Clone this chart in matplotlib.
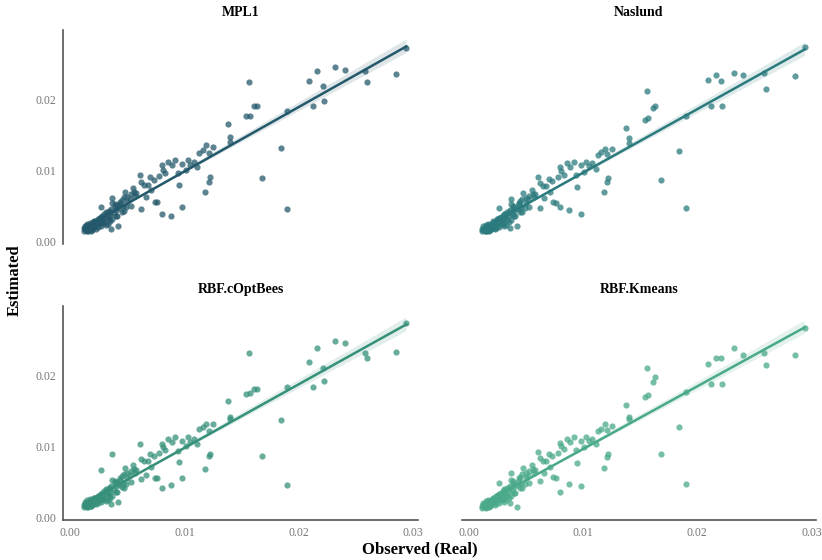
import matplotlib
matplotlib.use("Agg")
import matplotlib.pyplot as plt
import seaborn as sns
import numpy as np

plt.rcParams["font.family"] = ["Liberation Serif", "DejaVu Serif"]

observed = [
    0.0294, 0.0285, 0.0260, 0.0258, 0.0232, 0.0240, 0.0216, 0.0209, 0.0221, 0.0212,
    0.0222, 0.0190, 0.0184, 0.0168, 0.0190, 0.0156, 0.0163, 0.0161, 0.0154, 0.0157,
    0.0138, 0.0140, 0.0140, 0.0119, 0.0116, 0.0113, 0.0121, 0.0122, 0.0121, 0.0118,
    0.0098, 0.0095, 0.0088, 0.0080, 0.0103, 0.0105, 0.0092, 0.0089, 0.0080, 0.0081,
    0.0083, 0.0094, 0.0101, 0.0108, 0.0086, 0.0111, 0.0098, 0.0125, 0.0061, 0.0062,
    0.0073, 0.0068, 0.0048, 0.0062, 0.0074, 0.0076, 0.0037, 0.0040, 0.0027, 0.0037,
    0.0042, 0.0036, 0.0055, 0.0058, 0.0065, 0.0070, 0.0052, 0.0050, 0.0045, 0.0066,
    0.0078, 0.0071, 0.0012, 0.0013, 0.0014, 0.0015, 0.0016, 0.0017, 0.0018, 0.0019,
    0.0020, 0.0021, 0.0022, 0.0023, 0.0024, 0.0025, 0.0026, 0.0027, 0.0028, 0.0029,
    0.0030, 0.0031, 0.0032, 0.0033, 0.0034, 0.0035, 0.0036, 0.0038, 0.0039, 0.0041,
    0.0043, 0.0044, 0.0046, 0.0047, 0.0049, 0.0014, 0.0016, 0.0018, 0.0020, 0.0022,
    0.0026, 0.0030, 0.0034, 0.0053, 0.0057,
    0.0013, 0.0015, 0.0017, 0.0019, 0.0021, 0.0023, 0.0025, 0.0027, 0.0029, 0.0031,
    0.0033, 0.0035, 0.0037, 0.0039, 0.0041, 0.0044, 0.0047, 0.0050, 0.0053, 0.0056,
    0.0012, 0.0015, 0.0018, 0.0021, 0.0024, 0.0027, 0.0031, 0.0035, 0.0040, 0.0045,
]

mpl1 = [
    0.0272, 0.0236, 0.0224, 0.0239, 0.0245, 0.0241, 0.0239, 0.0226, 0.0218, 0.0191,
    0.0197, 0.0184, 0.0132, 0.0089, 0.0046, 0.0224, 0.0190, 0.0190, 0.0176, 0.0177,
    0.0165, 0.0147, 0.0140, 0.0136, 0.0129, 0.0124, 0.0124, 0.0091, 0.0084, 0.0069,
    0.0049, 0.0079, 0.0035, 0.0039, 0.0115, 0.0107, 0.0115, 0.0107, 0.0107, 0.0100,
    0.0096, 0.0096, 0.0100, 0.0112, 0.0112, 0.0104, 0.0109, 0.0133, 0.0093, 0.0084,
    0.0086, 0.0079, 0.0070, 0.0046, 0.0056, 0.0056, 0.0054, 0.0044, 0.0049, 0.0061,
    0.0021, 0.0018, 0.0075, 0.0068, 0.0080, 0.0090, 0.0060, 0.0055, 0.0058, 0.0063,
    0.0092, 0.0072, 0.0019, 0.0017, 0.0021, 0.0018, 0.0023, 0.0020, 0.0025, 0.0021,
    0.0027, 0.0023, 0.0029, 0.0025, 0.0031, 0.0027, 0.0033, 0.0029, 0.0036, 0.0031,
    0.0038, 0.0033, 0.0040, 0.0035, 0.0043, 0.0037, 0.0046, 0.0040, 0.0048, 0.0051,
    0.0047, 0.0053, 0.0050, 0.0062, 0.0048, 0.0016, 0.0015, 0.0017, 0.0019, 0.0020,
    0.0024, 0.0027, 0.0031, 0.0066, 0.0064,
    0.0022, 0.0014, 0.0026, 0.0016, 0.0029, 0.0018, 0.0032, 0.0021, 0.0026, 0.0041,
    0.0024, 0.0042, 0.0031, 0.0052, 0.0036, 0.0056, 0.0043, 0.0063, 0.0050, 0.0069,
    0.0015, 0.0024, 0.0015, 0.0027, 0.0020, 0.0034, 0.0023, 0.0028, 0.0036, 0.0042,
]

naslund = [
    0.0274, 0.0232, 0.0215, 0.0237, 0.0237, 0.0234, 0.0234, 0.0227, 0.0225, 0.0190,
    0.0190, 0.0177, 0.0127, 0.0087, 0.0047, 0.0212, 0.0191, 0.0188, 0.0171, 0.0173,
    0.0159, 0.0145, 0.0138, 0.0130, 0.0126, 0.0121, 0.0123, 0.0089, 0.0083, 0.0070,
    0.0039, 0.0077, 0.0044, 0.0048, 0.0112, 0.0106, 0.0112, 0.0105, 0.0104, 0.0099,
    0.0094, 0.0093, 0.0098, 0.0110, 0.0110, 0.0102, 0.0107, 0.0130, 0.0090, 0.0082,
    0.0085, 0.0078, 0.0068, 0.0047, 0.0055, 0.0054, 0.0052, 0.0043, 0.0047, 0.0060,
    0.0022, 0.0019, 0.0072, 0.0066, 0.0078, 0.0088, 0.0059, 0.0054, 0.0057, 0.0061,
    0.0090, 0.0070, 0.0017, 0.0016, 0.0019, 0.0018, 0.0021, 0.0019, 0.0023, 0.0020,
    0.0025, 0.0022, 0.0027, 0.0024, 0.0029, 0.0026, 0.0031, 0.0028, 0.0034, 0.0030,
    0.0036, 0.0032, 0.0038, 0.0034, 0.0041, 0.0036, 0.0044, 0.0039, 0.0047, 0.0049,
    0.0046, 0.0052, 0.0049, 0.0060, 0.0047, 0.0015, 0.0015, 0.0016, 0.0018, 0.0019,
    0.0023, 0.0026, 0.0030, 0.0064, 0.0062,
    0.0021, 0.0014, 0.0025, 0.0016, 0.0028, 0.0018, 0.0031, 0.0020, 0.0025, 0.0039,
    0.0023, 0.0041, 0.0030, 0.0050, 0.0035, 0.0054, 0.0042, 0.0061, 0.0049, 0.0067,
    0.0014, 0.0023, 0.0015, 0.0026, 0.0019, 0.0033, 0.0022, 0.0027, 0.0035, 0.0041,
]

rbf_coptbees = [
    0.0274, 0.0233, 0.0225, 0.0232, 0.0249, 0.0246, 0.0239, 0.0219, 0.0210, 0.0184,
    0.0192, 0.0184, 0.0137, 0.0087, 0.0046, 0.0231, 0.0181, 0.0181, 0.0174, 0.0175,
    0.0164, 0.0141, 0.0139, 0.0132, 0.0128, 0.0124, 0.0122, 0.0090, 0.0086, 0.0068,
    0.0056, 0.0078, 0.0046, 0.0041, 0.0113, 0.0106, 0.0114, 0.0106, 0.0104, 0.0099,
    0.0095, 0.0094, 0.0101, 0.0111, 0.0111, 0.0104, 0.0108, 0.0131, 0.0103, 0.0083,
    0.0087, 0.0079, 0.0070, 0.0054, 0.0056, 0.0055, 0.0053, 0.0044, 0.0067, 0.0089,
    0.0022, 0.0019, 0.0074, 0.0067, 0.0080, 0.0090, 0.0060, 0.0055, 0.0058, 0.0060,
    0.0091, 0.0071, 0.0018, 0.0017, 0.0020, 0.0018, 0.0022, 0.0020, 0.0024, 0.0021,
    0.0026, 0.0023, 0.0028, 0.0024, 0.0030, 0.0026, 0.0032, 0.0029, 0.0035, 0.0031,
    0.0037, 0.0033, 0.0039, 0.0034, 0.0042, 0.0036, 0.0045, 0.0039, 0.0048, 0.0050,
    0.0046, 0.0053, 0.0049, 0.0061, 0.0047, 0.0016, 0.0015, 0.0016, 0.0019, 0.0020,
    0.0024, 0.0026, 0.0031, 0.0065, 0.0063,
    0.0022, 0.0015, 0.0026, 0.0017, 0.0028, 0.0019, 0.0031, 0.0022, 0.0026, 0.0040,
    0.0025, 0.0041, 0.0031, 0.0051, 0.0036, 0.0055, 0.0042, 0.0062, 0.0050, 0.0068,
    0.0015, 0.0024, 0.0016, 0.0027, 0.0021, 0.0033, 0.0023, 0.0028, 0.0036, 0.0043,
]

rbf_kmeans = [
    0.0267, 0.0228, 0.0214, 0.0232, 0.0238, 0.0229, 0.0225, 0.0216, 0.0225, 0.0188,
    0.0188, 0.0177, 0.0128, 0.0089, 0.0047, 0.0211, 0.0198, 0.0191, 0.0170, 0.0172,
    0.0158, 0.0142, 0.0139, 0.0131, 0.0125, 0.0122, 0.0123, 0.0089, 0.0085, 0.0069,
    0.0045, 0.0077, 0.0047, 0.0036, 0.0114, 0.0108, 0.0113, 0.0106, 0.0105, 0.0100,
    0.0097, 0.0095, 0.0099, 0.0110, 0.0110, 0.0103, 0.0108, 0.0129, 0.0092, 0.0084,
    0.0086, 0.0079, 0.0069, 0.0052, 0.0057, 0.0055, 0.0053, 0.0043, 0.0048, 0.0062,
    0.0015, 0.0020, 0.0074, 0.0067, 0.0079, 0.0089, 0.0059, 0.0055, 0.0057, 0.0062,
    0.0091, 0.0071, 0.0016, 0.0016, 0.0019, 0.0017, 0.0021, 0.0019, 0.0023, 0.0020,
    0.0025, 0.0022, 0.0028, 0.0024, 0.0030, 0.0026, 0.0032, 0.0028, 0.0035, 0.0030,
    0.0037, 0.0032, 0.0039, 0.0034, 0.0041, 0.0036, 0.0044, 0.0039, 0.0047, 0.0049,
    0.0046, 0.0052, 0.0049, 0.0061, 0.0047, 0.0015, 0.0015, 0.0016, 0.0018, 0.0020,
    0.0024, 0.0026, 0.0030, 0.0065, 0.0063,
    0.0021, 0.0014, 0.0025, 0.0016, 0.0028, 0.0018, 0.0031, 0.0021, 0.0025, 0.0040,
    0.0024, 0.0042, 0.0030, 0.0051, 0.0035, 0.0055, 0.0042, 0.0062, 0.0049, 0.0068,
    0.0014, 0.0023, 0.0015, 0.0026, 0.0020, 0.0033, 0.0022, 0.0027, 0.0035, 0.0041,
]

models = ["MPL1", "Naslund", "RBF.cOptBees", "RBF.Kmeans"]
estimates = [mpl1, naslund, rbf_coptbees, rbf_kmeans]
colors = ["#24596b", "#2b7a7e", "#36907a", "#4aa98a"]

AXIS_COLOR = "#555555"
TICK_COLOR = "#777777"

fig, axes = plt.subplots(2, 2, figsize=(8.22, 5.6), dpi=100, sharex=True, sharey=True)
fig.subplots_adjust(left=0.077, right=0.993, top=0.946, bottom=0.072,
                    wspace=0.124, hspace=0.295)

for i, (ax, name, est, col) in enumerate(zip(axes.flat, models, estimates, colors)):
    x = np.array(observed)
    y = np.array(est)
    sns.regplot(x=x, y=y, ax=ax, color=col, seed=1, ci=68,
                scatter_kws=dict(s=20, alpha=0.75, linewidths=0),
                line_kws=dict(lw=1.8))
    ax.set_title(name, fontsize=10, fontweight="bold", pad=10)
    ax.set_xlim(-0.0006, 0.0304)
    ax.set_ylim(-0.0003, 0.0297)
    ax.set_xticks([0.0, 0.01, 0.02, 0.03])
    ax.set_yticks([0.0, 0.01, 0.02])
    ax.xaxis.set_major_formatter(matplotlib.ticker.FormatStrFormatter("%.2f"))
    ax.yaxis.set_major_formatter(matplotlib.ticker.FormatStrFormatter("%.2f"))
    ax.tick_params(length=0, labelsize=8.5, labelcolor=TICK_COLOR, pad=5)
    ax.set_xlabel("")
    ax.set_ylabel("")
    for side in ["top", "right", "left", "bottom"]:
        ax.spines[side].set_visible(False)
    if i % 2 == 0:
        ax.spines["left"].set_visible(True)
        ax.spines["left"].set_color(AXIS_COLOR)
        ax.spines["left"].set_linewidth(1.2)
    if i >= 2:
        ax.spines["bottom"].set_visible(True)
        ax.spines["bottom"].set_color(AXIS_COLOR)
        ax.spines["bottom"].set_linewidth(1.2)

fig.text(0.018, 0.5, "Estimated", rotation=90, ha="center", va="center",
         fontsize=12, fontweight="bold")
fig.text(0.511, 0.019, "Observed (Real)", ha="center", va="center",
         fontsize=12, fontweight="bold")

fig.savefig("out.png", dpi=100)
